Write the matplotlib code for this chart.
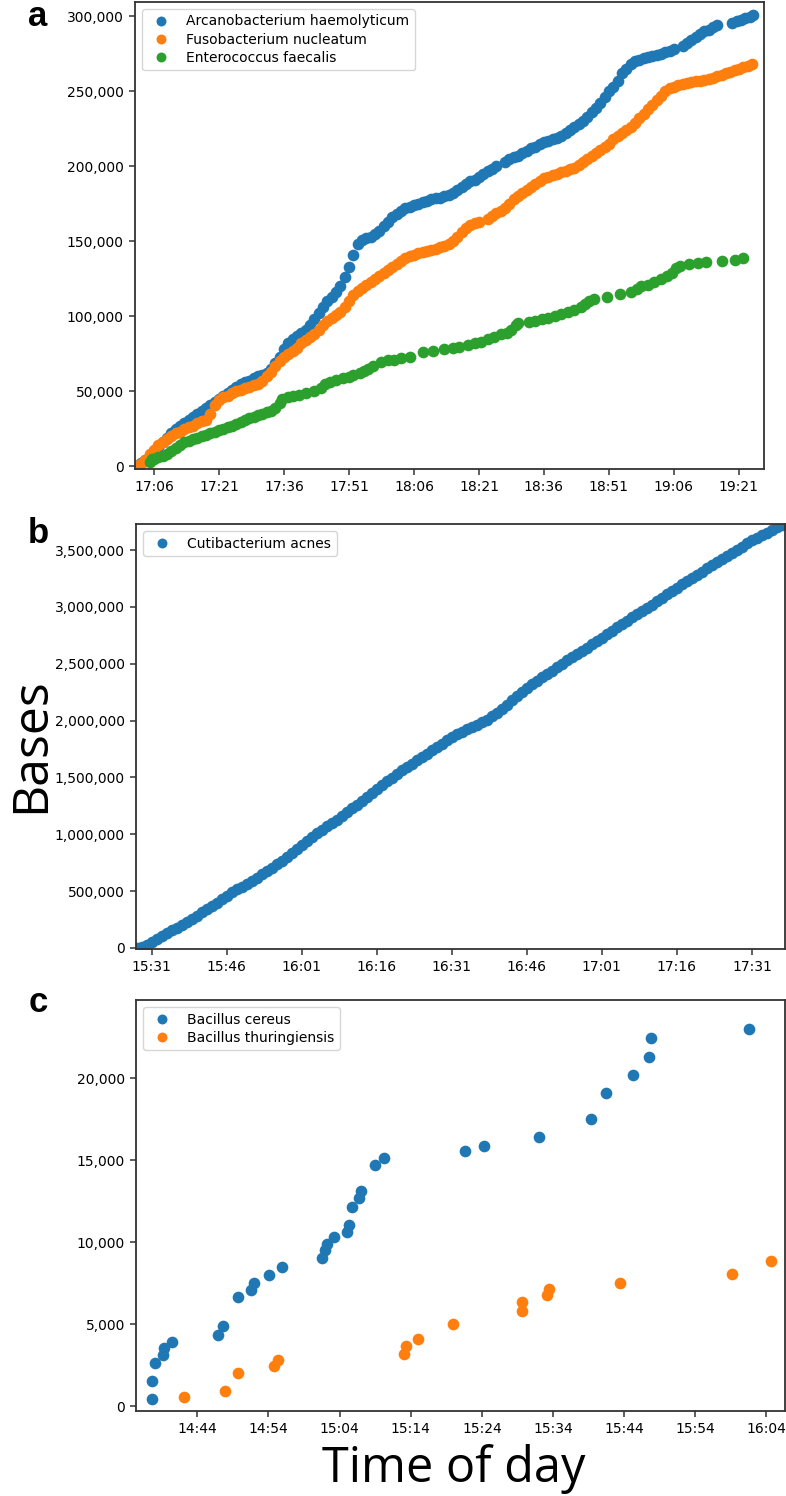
import matplotlib
matplotlib.use("Agg")
import matplotlib.pyplot as plt
import matplotlib.dates as mdates
from matplotlib.ticker import FuncFormatter
import numpy as np

plt.rcParams["font.family"] = ["DejaVu Sans"]

DAY = "2018-01-01"

# ---------------------------------------------------------------------------
# panel a: minutes after 17:00, cumulative bases (thousands)
# ---------------------------------------------------------------------------
a_names = ["Arcanobacterium haemolyticum", "Fusobacterium nucleatum", "Enterococcus faecalis"]

a1_min = [2.3, 3, 4, 5, 6, 7, 8, 9, 10, 11,
          12, 13, 14, 15, 16, 17, 18, 19, 20, 21,
          22, 23, 24, 25, 26, 27, 28, 29, 30, 31,
          32, 33, 34, 35, 36, 37, 38, 39, 40, 41,
          42, 43, 44, 45, 46, 47, 48, 49, 50, 51,
          52, 53, 54, 55, 56, 57, 58, 59, 60, 61,
          62, 63, 64, 65, 66, 67, 68, 69, 70, 71,
          72, 73, 74, 75, 76, 77, 78, 79, 80, 81,
          82, 83, 84, 85, 87, 88, 89, 90, 91, 92,
          93, 94, 95, 96, 97, 98, 99, 100, 101, 102,
          103, 104, 105, 106, 107, 108, 109, 110, 111, 112,
          113, 114, 115, 116, 117, 118, 119, 120, 121, 122,
          123, 124, 125, 126, 128, 129, 130, 131, 132, 133,
          134, 135, 136, 139.5, 140.5, 141.5, 142.5, 143.5, 144.2]
a1_kb = [1, 2, 4, 7, 10, 13, 16, 19, 22, 25,
         27, 29, 31, 33, 35, 37, 39, 41, 43, 45,
         47, 49, 51, 53, 55, 56, 57, 59, 60, 61,
         62, 65, 69, 73, 78, 82, 85, 87, 89, 91,
         94, 98, 102, 106, 110, 113, 116, 120, 126, 133,
         141, 148, 151, 152, 153, 155, 157, 160, 163, 166,
         168, 170, 172, 173, 174, 175, 176, 177, 178, 178.5,
         179, 180, 181, 182, 184, 186, 188, 190, 191, 193,
         195, 197, 198, 200, 203, 205, 206, 207, 209, 210,
         212, 213, 215, 216, 217, 218, 219, 220, 222, 224,
         226, 228, 230, 233, 236, 239, 242, 246, 250, 253,
         257, 262, 265, 268, 270, 271, 272, 273, 273.5, 274,
         275, 276, 277, 278, 280, 282, 284, 286, 288, 290,
         291, 293, 294, 295.5, 296.5, 297.5, 298.5, 299.5, 300.5]

a2_min = [2.5, 3, 4, 5, 6, 7, 8, 9, 10, 11,
          12, 13, 14, 15, 16, 17, 18, 19, 20, 21,
          22, 23, 24, 25, 26, 27, 28, 29, 30, 31,
          32, 33, 34, 35, 36, 37, 38, 39, 40, 41,
          42, 43, 44, 45, 46, 47, 48, 49, 50, 51,
          52, 53, 54, 55, 56, 57, 58, 59, 60, 61,
          62, 63, 64, 65, 66, 67, 68, 69, 70, 71,
          72, 73, 74, 75, 76, 77, 78, 79, 80, 81,
          83, 84, 85, 86, 87, 88, 89, 90, 91, 92,
          93, 94, 95, 96, 97, 98, 99, 100, 101, 102,
          103, 104, 105, 106, 107, 108, 109, 110, 111, 112,
          113, 114, 115, 116, 117, 118, 119, 120, 121, 122,
          123, 124, 125, 126, 127, 128, 129, 130, 131, 132,
          133, 134, 135, 136, 137, 138, 139, 140, 141, 142,
          143, 144]
a2_kb = [0.5, 1.5, 4, 8, 11, 14, 16, 18, 20, 22,
         23, 25, 26, 27, 29, 30, 31, 35, 41, 44,
         46, 47, 49, 50, 51, 52, 53, 54, 55, 57,
         60, 63, 67, 70, 73, 75, 77, 79, 82, 84,
         86, 88, 91, 94, 97, 99, 101, 103, 106, 110,
         114, 117, 119, 121, 123, 125, 127, 129, 131, 133,
         135, 137, 139, 140, 141, 142, 143, 143.5, 144, 145,
         146, 147, 148, 150, 153, 156, 159, 161, 162, 163,
         165, 167, 169, 170, 172, 175, 178, 180, 182, 184,
         186, 188, 190, 192, 193, 194, 195, 196, 197, 198,
         199, 201, 203, 205, 207, 209, 211, 213, 215, 218,
         220, 222, 224, 226, 229, 232, 235, 238, 241, 244,
         247, 250, 252, 253, 254, 255, 255.5, 256, 256.5, 257,
         257.5, 258, 259, 260, 261, 262, 263, 264, 265, 266,
         267, 268]

a3_min = [5, 5.5, 6, 7, 8, 9, 10, 11, 12, 13,
          14, 15, 16, 17, 18, 19, 20, 21, 22, 23,
          24, 25, 26, 27, 28, 29, 30, 31, 32, 33,
          34, 35, 35.5, 37, 38, 39.5, 41, 43, 44.5, 45.5,
          46.5, 48, 49.5, 51, 52, 53.5, 54.5, 55.5, 56.5, 58.5,
          60, 61.5, 63, 65, 68, 70.5, 73, 75, 76.5, 78.5,
          80, 81.5, 83, 84.5, 86, 87.5, 88.5, 89.5, 90, 92.5,
          94, 95.5, 97, 98.5, 100, 101.5, 103, 104.5, 105.5, 106.5,
          107.5, 110.5, 113.5, 116, 117.5, 118.5, 120, 121.5, 123, 124.5,
          125.5, 126.5, 127.5, 129.5, 131.5, 133.5, 137, 140, 142]
a3_kb = [3, 4.5, 5, 6, 7, 8, 10, 12, 14, 16,
         17, 18, 19, 20, 21, 22, 22.5, 24, 25, 26,
         27, 28, 29.5, 31, 32, 33, 34, 35, 36, 37,
         39, 42, 45, 46, 46.5, 47.5, 48.5, 50, 52, 55,
         56, 57.5, 58.5, 59.5, 60.5, 62, 63.5, 65, 67, 69.5,
         70.5, 71, 72, 73, 76, 77, 78, 78.5, 79.5, 81,
         82, 83, 84.5, 86, 88, 89, 91, 94, 95.5, 96,
         97, 98, 99, 100, 101.5, 103, 104, 106, 108, 110,
         111.5, 113, 114.5, 116, 118, 120, 121, 122.5, 125, 127,
         129, 132, 133.5, 135, 135.5, 136, 137, 137.5, 138.5]

a_ticks = ["17:06", "17:21", "17:36", "17:51", "18:06", "18:21", "18:36", "18:51", "19:06", "19:21"]
a_yticks = [0, 50000, 100000, 150000, 200000, 250000, 300000]

# ---------------------------------------------------------------------------
# panel b: minutes after 15:00, cumulative bases (thousands)
# ---------------------------------------------------------------------------
b_name = "Cutibacterium acnes"
b_min = [28, 29, 30, 31, 32, 33, 34, 35, 36, 37,
         38, 39, 40, 41, 42, 43, 44, 45, 46, 47,
         48, 49, 50, 51, 52, 53, 54, 55, 56, 57,
         58, 59, 60, 61, 62, 63, 64, 65, 66, 67,
         68, 69, 70, 71, 72, 73, 74, 75, 76, 77,
         78, 79, 80, 81, 82, 83, 84, 85, 86, 87,
         88, 89, 90, 91, 92, 93, 94, 95, 96, 97,
         98, 99, 100, 101, 102, 103, 104, 105, 106, 107,
         108, 109, 110, 111, 112, 113, 114, 115, 116, 117,
         118, 119, 120, 121, 122, 123, 124, 125, 126, 127,
         128, 129, 130, 131, 132, 133, 134, 135, 136, 137,
         138, 139, 140, 141, 142, 143, 144, 145, 146, 147,
         148, 149, 150, 151, 152, 153, 154, 155, 156, 157, 157.6]
b_kb = [0, 10, 30, 55, 80, 105, 130, 155, 180, 205,
        230, 258, 285, 315, 345, 372, 400, 430, 460, 490,
        515, 540, 565, 592, 620, 650, 680, 708, 735, 768,
        800, 835, 870, 905, 940, 975, 1010, 1040, 1070, 1100,
        1130, 1162, 1195, 1228, 1260, 1295, 1330, 1365, 1400, 1432,
        1465, 1498, 1530, 1562, 1595, 1622, 1650, 1680, 1710, 1738,
        1765, 1798, 1830, 1855, 1880, 1902, 1925, 1945, 1965, 1988,
        2010, 2040, 2070, 2105, 2140, 2178, 2215, 2252, 2290, 2320,
        2350, 2380, 2410, 2440, 2470, 2500, 2530, 2560, 2590, 2615,
        2640, 2670, 2700, 2730, 2760, 2790, 2820, 2850, 2880, 2908,
        2935, 2962, 2990, 3020, 3050, 3080, 3110, 3140, 3170, 3200,
        3230, 3258, 3285, 3312, 3340, 3368, 3395, 3422, 3450, 3478,
        3505, 3532, 3560, 3585, 3610, 3632, 3655, 3678, 3700, 3718, 3730]

b_ticks = ["15:31", "15:46", "16:01", "16:16", "16:31", "16:46", "17:01", "17:16", "17:31"]
b_yticks = [0, 500000, 1000000, 1500000, 2000000, 2500000, 3000000, 3500000]

# ---------------------------------------------------------------------------
# panel c: minutes after 14:00, cumulative bases
# ---------------------------------------------------------------------------
c_names = ["Bacillus cereus", "Bacillus thuringiensis"]
c1_min = [37.6, 37.6, 38.0, 39.2, 39.4, 40.4, 46.9, 47.6, 49.7, 51.6,
          52.0, 54.1, 55.9, 61.5, 62.0, 62.2, 63.2, 65.0, 65.3, 65.8,
          66.8, 67.0, 69.0, 70.2, 81.6, 84.3, 92.0, 99.4, 101.4, 105.2,
          107.5, 107.8, 121.5]
c1_b = [410, 1530, 2650, 3120, 3530, 3880, 4350, 4860, 6650, 7100,
        7510, 8020, 8490, 9000, 9490, 9860, 10300, 10630, 11020, 12140,
        12660, 13130, 14710, 15100, 15530, 15870, 16400, 17500, 19100, 20200,
        21300, 22450, 23000]
c2_min = [42.2, 47.9, 49.8, 54.8, 55.3, 73.1, 73.4, 75.0, 80.0, 89.6,
          89.6, 93.1, 93.4, 103.4, 119.1, 124.6]
c2_b = [550, 940, 2040, 2470, 2840, 3180, 3670, 4080, 5000, 5800,
        6330, 6780, 7140, 7510, 8040, 8860]

c_ticks = ["14:44", "14:54", "15:04", "15:14", "15:24", "15:34", "15:44", "15:54", "16:04"]
c_yticks = [0, 5000, 10000, 15000, 20000]

COLORS = ["#1f77b4", "#ff7f0e", "#2ca02c"]


def at(base, minutes):
    start = np.datetime64(f"{DAY}T{base}")
    return start + np.round(np.asarray(minutes, dtype=float) * 60).astype("timedelta64[s]")


def hm(labels):
    return [np.datetime64(f"{DAY}T{s}") for s in labels]


W, H = 786, 1496


def box(l, t, r, b):
    return [l / W, 1 - b / H, (r - l) / W, (b - t) / H]


def style(ax, ticks, yticks):
    ax.set_xticks(mdates.date2num(hm(ticks)))
    ax.xaxis.set_major_formatter(mdates.DateFormatter("%H:%M"))
    ax.set_yticks(yticks)
    ax.yaxis.set_major_formatter(FuncFormatter(lambda v, p: f"{v:,.0f}"))
    ax.tick_params(labelsize=10, length=4.5, width=1.1, color="#333333")
    for s in ax.spines.values():
        s.set_linewidth(1.3)
        s.set_color("#333333")
    ax.legend(loc="upper left", fontsize=10, labelspacing=0.3, numpoints=1,
              borderaxespad=0.5, handletextpad=0.8, markerscale=0.85)


fig = plt.figure(figsize=(W / 100, H / 100), dpi=100)
mk = dict(marker="o", linestyle="none", ms=8.4, mew=0)

# --- a ---
ax = fig.add_axes(box(135, 2, 764, 469))
for mins, kb, name, col in zip([a1_min, a2_min, a3_min], [a1_kb, a2_kb, a3_kb], a_names, COLORS):
    ax.plot(at("17:00", mins), np.array(kb) * 1000, color=col, label=name, **mk)
ax.set_xlim(at("17:00", [1.6, 146.8]))
ax.set_ylim(-2000, 309500)
style(ax, a_ticks, a_yticks)

# --- b ---
ax = fig.add_axes(box(136, 524, 785, 949))
ax.plot(at("15:00", b_min), np.array(b_kb) * 1000, color=COLORS[0], label=b_name, **mk)
ax.set_xlim(at("15:00", [27.9, 157.6]))
ax.set_ylim(-9000, 3730000)
style(ax, b_ticks, b_yticks)

# --- c ---
ax = fig.add_axes(box(136, 1000, 785, 1411))
for mins, vals, name, col in zip([c1_min, c2_min], [c1_b, c2_b], c_names, COLORS):
    ax.plot(at("14:00", mins), vals, color=col, label=name, **mk)
ax.set_xlim(at("14:00", [35.4, 126.6]))
ax.set_ylim(-300, 24760)
style(ax, c_ticks, c_yticks)

# panel letters and shared axis labels
for letter, base in zip("abc", [26, 543, 1012]):
    fig.text(38 / W, 1 - base / H, letter, fontsize=25, fontweight="bold",
             family=["Liberation Sans", "DejaVu Sans"], ha="center", va="baseline")
fig.text(31 / W, 1 - 745 / H, "Bases", fontsize=36, rotation=90,
         family=["Open Sans", "DejaVu Sans"], ha="center", va="center")
fig.text(454 / W, 1 - 1482 / H, "Time of day", fontsize=35,
         family=["Open Sans", "DejaVu Sans"], ha="center", va="baseline")

fig.savefig("out.png", dpi=100)
